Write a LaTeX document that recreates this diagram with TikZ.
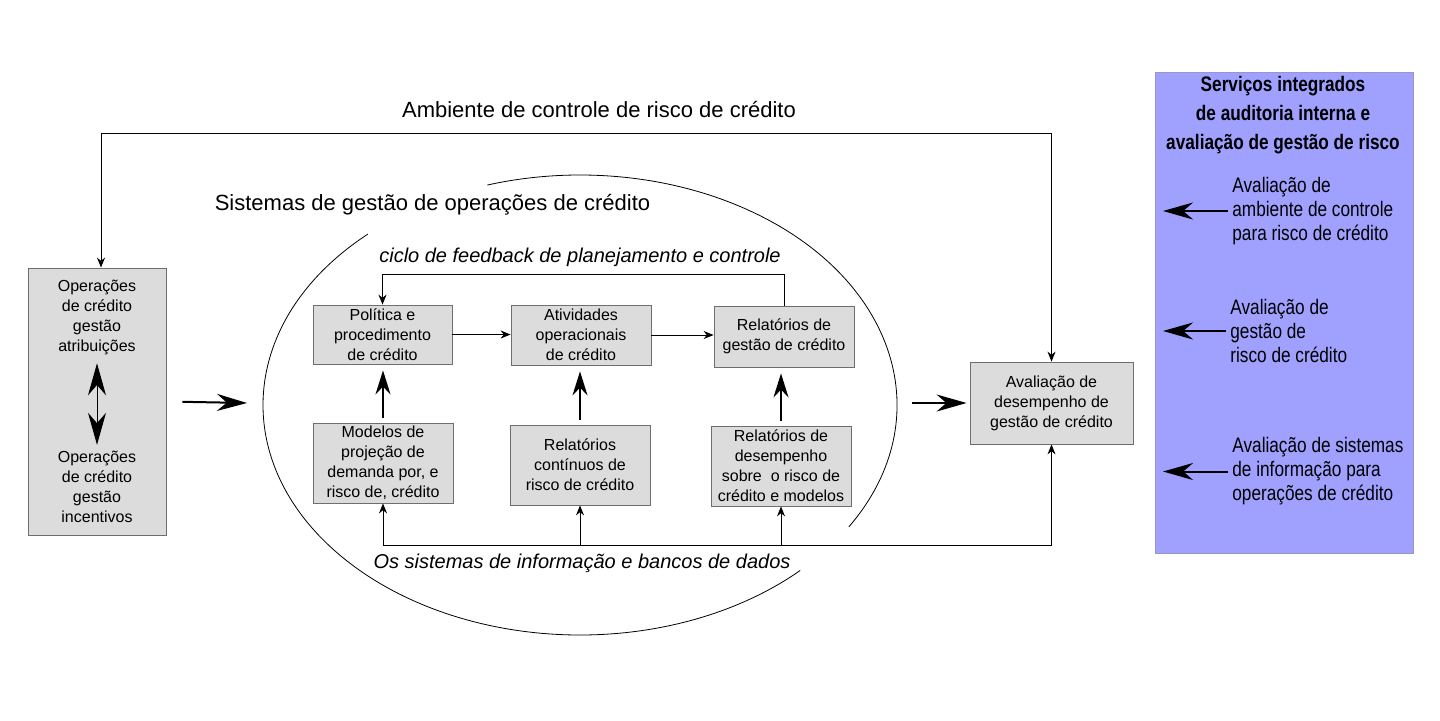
\documentclass[tikz,border=0pt]{standalone}
\usepackage{fontspec}
\setmainfont{Liberation Sans}
\newfontfamily\narrowfont[FakeStretch=0.82]{Liberation Sans}
\usepackage{xcolor}
\usepackage{tikz}
\usetikzlibrary{shapes,backgrounds,calc,arrows.meta}

\definecolor{boxgray}{RGB}{220,220,220}
\definecolor{boxline}{RGB}{110,110,110}
\definecolor{panelblue}{RGB}{160,160,255}
\definecolor{panelline}{RGB}{150,150,200}

\begin{document}
\begin{tikzpicture}[x=0.5pt,y=0.5pt]
        % Define the styles for the boxes, texts and arrows
        \tikzstyle{box}=[draw=boxline, fill=boxgray, align=center, inner sep=0pt, font=\fontsize{8}{10}\selectfont];
        \tikzstyle{thin arrow}=[-{Stealth[length=5pt,width=4pt]}, line width=0.5pt];
        \tikzstyle{big arrow}=[-{Stealth[length=15pt,width=8.5pt]}, line width=1pt];
        \tikzstyle{up arrow}=[-{Stealth[length=12pt,width=7.5pt]}, line width=1.2pt, shorten <=2.5pt, shorten >=3pt];
        \tikzstyle{panel text}=[anchor=west, align=left, inner sep=2pt, font=\narrowfont\fontsize{10.5}{12}\selectfont];

        % Fix the size of the page
        \useasboundingbox (0,0) rectangle (1440,720);

        % Define the coordinates for the ellipse and the two long lines
        \coordinate (E) at (580,315);
        \coordinate (T) at (0,587);
        \coordinate (B) at (0,175);
        \coordinate (L) at (1163,0);

        % Title of the control environment
        \node (amb) at (599,610) {\fontsize{11}{13}\selectfont Ambiente de controle de risco de crédito};

        % Left box with the two management tasks
        \node[box, minimum width=69pt, minimum height=133.5pt] (op) at (97,318.5) {};
        \node[align=center, inner sep=1pt, font=\fontsize{8}{10}\selectfont] (opA) at (97,402.5) {Operações\\de crédito\\gestão\\atribuições};
        \node[align=center, inner sep=1pt, font=\fontsize{8}{10}\selectfont] (opB) at (97,233) {Operações\\de crédito\\gestão\\incentivos};
        \draw[{Stealth[length=16pt,width=9pt]}-{Stealth[length=16pt,width=9pt]}, line width=0.5pt, shorten <=3pt, shorten >=2pt] (opA.south) -- (opB.north);

        % Draw the ellipse, open where the title and the line cross it
        \draw[line width=0.4pt] (E) ++(-32:158.5pt and 115pt) arc[start angle=-32, end angle=107, x radius=158.5pt, y radius=115pt];
        \draw[line width=0.4pt] (E) ++(132:158.5pt and 115pt) arc[start angle=132, end angle=314, x radius=158.5pt, y radius=115pt];

        % Labels of the management system
        \node (sis) at (432.5,515) {\fontsize{11}{13}\selectfont Sistemas de gestão de operações de crédito};
        \node (ciclo) at (580,463) {\fontsize{10}{12}\selectfont\itshape ciclo de feedback de planejamento e controle};
        \node (info) at (582,157) {\fontsize{10}{12}\selectfont\itshape Os sistemas de informação e bancos de dados};

        % Boxes inside the ellipse
        \node[box, minimum width=69.5pt, minimum height=29.5pt] (pol) at (382.5,385.5) {Política e\\procedimento\\de crédito};
        \node[box, minimum width=70pt, minimum height=30pt] (ativ) at (581,385) {Atividades\\operacionais\\de crédito};
        \node[box, minimum width=70pt, minimum height=30.5pt] (relg) at (784,383.5) {Relatórios de\\gestão de crédito};
        \node[box, minimum width=70pt, minimum height=40pt] (mod) at (383,257) {Modelos de\\projeção de\\demanda por, e\\risco de, crédito};
        \node[box, minimum width=70pt, minimum height=40pt] (relc) at (580,255) {Relatórios\\contínuos de\\risco de crédito};
        \node[box, minimum width=70pt, minimum height=40pt] (reld) at (781,254) {Relatórios de\\desempenho\\sobre\ \ o risco de\\crédito e modelos};

        % Evaluation box
        \node[box, minimum width=81.5pt, minimum height=41pt] (av) at (1051.5,317) {Avaliação de\\desempenho de\\gestão de crédito};

        % Arrows between the boxes
        \draw[thin arrow] (pol.east) -- (pol.east -| ativ.west);
        \draw[thin arrow] (ativ.east) -- (ativ.east -| relg.west);
        \draw[up arrow] (mod.north) -- (mod.north |- pol.south);
        \draw[up arrow] (relc.north) -- (relc.north |- ativ.south);
        \draw[up arrow] (reld.north) -- (reld.north |- relg.south);

        % Feedback loop
        \draw[thin arrow] (relg.north) -- ++(0,31) -| (pol.north);

        % Information systems line
        \draw[thin arrow] (mod.south |- B) -- (mod.south);
        \draw[thin arrow] (relc.south |- B) -- (relc.south);
        \draw[thin arrow] (reld.south |- B) -- (reld.south);
        \draw[thin arrow] (mod.south |- B) -| (av.south);

        % Control environment line
        \draw[thin arrow] ([xshift=2pt]op.north |- T) -- ([xshift=2pt]op.north);
        \draw[thin arrow] ([xshift=2pt]op.north |- T) -| (av.north);

        % Big arrows into and out of the ellipse
        \coordinate (a2) at (247,317);
        \coordinate (a3) at (912,317);
        \draw[big arrow, shorten <=8pt] (op.east) -- (a2);
        \draw[big arrow, shorten >=1.5pt] (a3) -- (av.west);

        % Panel of the integrated services
        \node[fill=panelblue, draw=panelline, minimum width=129pt, minimum height=240.5pt, inner sep=0pt] (panel) at (1284,407.5) {};
        \node[align=center, font=\narrowfont\bfseries\fontsize{10.5}{14.5}\selectfont] (ptitle) at (1283,605) {Serviços integrados\\de auditoria interna e\\avaliação de gestão de risco};
        \node[panel text] (p1) at (1228,509) {Avaliação de\\ambiente de controle\\para risco de crédito};
        \node[panel text] (p2) at (1226,389) {Avaliação de\\gestão de\\risco de crédito};
        \node[panel text] (p3) at (1228,248.5) {Avaliação de sistemas\\de informação para\\operações de crédito};
        \draw[big arrow] (p1.west) -- (p1.west -| L);
        \draw[big arrow] (p2.west) -- (p2.west -| L);
        \draw[big arrow] (p3.west) -- (p3.west -| L);
    \end{tikzpicture}
\end{document}
